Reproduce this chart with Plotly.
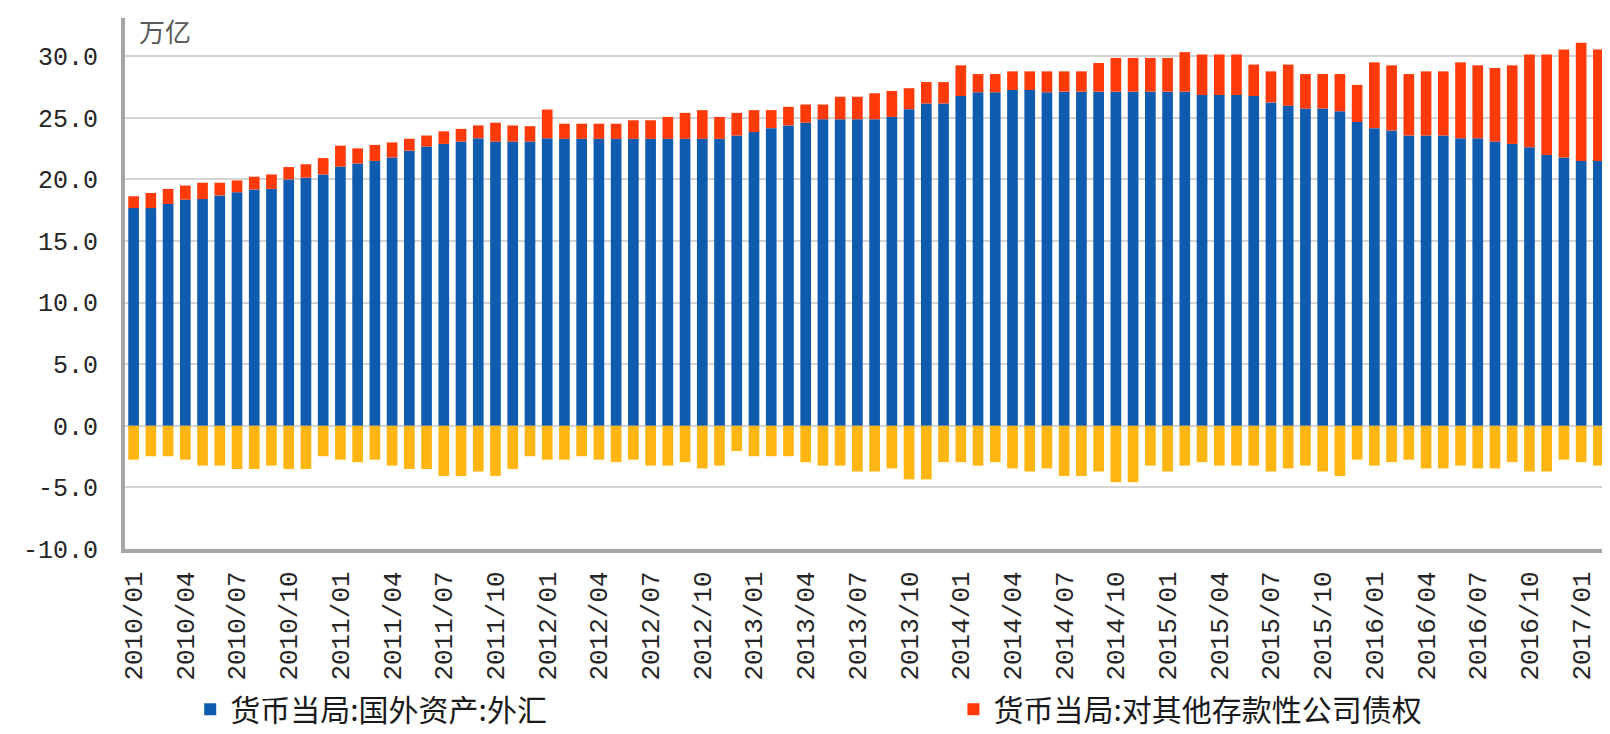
import plotly.graph_objects as go

# months 2010/01 .. 2017/02
months = [f"{y}/{m:02d}" for y in range(2010, 2018) for m in range(1, 13)][:86]
tick_labels = months[::3]

# 货币当局:国外资产:外汇 (万亿)
fx = [17.67, 17.67, 18.00, 18.36, 18.40, 18.70, 18.96, 19.18, 19.23, 20.00,
      20.14, 20.40, 21.04, 21.29, 21.50, 21.78, 22.33, 22.66, 22.88, 23.07,
      23.34, 23.07, 23.07, 23.07, 23.34, 23.29, 23.29, 23.29, 23.29, 23.29,
      23.29, 23.29, 23.29, 23.29, 23.29, 23.56, 23.84, 24.16, 24.38, 24.60,
      24.88, 24.88, 24.88, 24.88, 25.07, 25.70, 26.16, 26.16, 26.77, 27.07,
      27.07, 27.26, 27.26, 27.07, 27.12, 27.12, 27.12, 27.12, 27.12, 27.12,
      27.12, 27.12, 26.85, 26.85, 26.85, 26.77, 26.25, 25.97, 25.75, 25.75,
      25.53, 24.66, 24.16, 23.97, 23.56, 23.56, 23.56, 23.34, 23.34, 23.07,
      22.88, 22.60, 21.97, 21.78, 21.50, 21.50]

# 货币当局:对其他存款性公司债权 (stacked on top)
claims = [0.96, 1.23, 1.23, 1.14, 1.33, 1.03, 0.96, 1.04, 1.17, 1.00,
          1.09, 1.33, 1.70, 1.23, 1.30, 1.22, 0.97, 0.90, 1.02, 1.03,
          1.04, 1.53, 1.31, 1.25, 2.33, 1.23, 1.23, 1.23, 1.23, 1.51,
          1.51, 1.78, 2.11, 2.33, 1.78, 1.84, 1.78, 1.46, 1.51, 1.48,
          1.20, 1.83, 1.83, 2.11, 2.11, 1.70, 1.74, 1.74, 2.49, 1.48,
          1.48, 1.51, 1.51, 1.70, 1.65, 1.65, 2.33, 2.74, 2.74, 2.74,
          2.74, 3.21, 3.29, 3.29, 3.29, 2.55, 2.52, 3.35, 2.80, 2.80,
          3.02, 3.01, 5.34, 5.29, 4.99, 5.21, 5.21, 6.16, 5.92, 5.97,
          6.38, 7.54, 8.17, 8.77, 9.60, 9.05]

# negative series (no legend entry in the original)
neg = [-2.75, -2.47, -2.47, -2.75, -3.23, -3.23, -3.51, -3.51, -3.23, -3.51,
       -3.51, -2.47, -2.75, -2.95, -2.75, -3.23, -3.51, -3.51, -4.07, -4.07,
       -3.71, -4.07, -3.51, -2.47, -2.75, -2.75, -2.47, -2.75, -2.95, -2.75,
       -3.23, -3.23, -2.95, -3.46, -3.23, -2.05, -2.47, -2.47, -2.47, -2.95,
       -3.23, -3.23, -3.71, -3.71, -3.46, -4.35, -4.35, -2.95, -2.95, -3.23,
       -2.95, -3.46, -3.71, -3.46, -4.07, -4.07, -3.71, -4.58, -4.58, -3.23,
       -3.71, -3.23, -2.95, -3.23, -3.23, -3.23, -3.71, -3.46, -3.23, -3.71,
       -4.07, -2.75, -3.23, -2.95, -2.75, -3.46, -3.46, -3.23, -3.46, -3.46,
       -2.95, -3.71, -3.71, -2.75, -2.95, -3.23]

BLUE, RED, YELLOW = "#0E5BB0", "#FF3A0A", "#FFB612"
MONO = "Liberation Mono, DejaVu Sans Mono, monospace"
CJK = "Noto Sans CJK SC, sans-serif"

fig = go.Figure()
fig.add_trace(go.Bar(x=months, y=fx, name="货币当局:国外资产:外汇",
                     marker=dict(color=BLUE, line_width=0), legend="legend"))
fig.add_trace(go.Bar(x=months, y=claims, name="货币当局:对其他存款性公司债权",
                     marker=dict(color=RED, line_width=0), legend="legend2"))
fig.add_trace(go.Bar(x=months, y=neg, name="neg", showlegend=False,
                     marker=dict(color=YELLOW, line_width=0)))

# page body keeps its default 8px margin, so the figure is 8px smaller than the window
leg_font = dict(family=CJK, size=30, color="#1a1a1a")
fig.update_layout(
    width=1602, height=726, barmode="relative", bargap=0.38,
    plot_bgcolor="white", paper_bgcolor="white",
    margin=dict(l=117, r=3, t=10, b=185, autoexpand=False),
    legend=dict(x=0.044, xanchor="left", y=-0.302, yanchor="middle",
                font=leg_font, itemwidth=30, bgcolor="rgba(0,0,0,0)", borderwidth=0),
    legend2=dict(x=0.559, xanchor="left", y=-0.302, yanchor="middle",
                 font=leg_font, itemwidth=30, bgcolor="rgba(0,0,0,0)", borderwidth=0),
    annotations=[dict(text="万亿", xref="paper", yref="paper", x=0.008, y=0.977,
                      xanchor="left", yanchor="middle", showarrow=False,
                      font=dict(family=CJK, size=26, color="#595959"))],
)
fig.update_xaxes(type="category", tickmode="array", tickvals=tick_labels, ticktext=tick_labels,
                 tickangle=-90, tickfont=dict(family=MONO, size=26, color="#262626"),
                 showline=True, linecolor="#A6A6A6", linewidth=4, showgrid=False,
                 ticks="outside", ticklen=8, tickcolor="rgba(0,0,0,0)", range=[-0.5, 85.5])
fig.update_yaxes(range=[-10, 33.1], tickvals=[-10, -5, 0, 5, 10, 15, 20, 25, 30],
                 ticktext=["-10.0", "-5.0", "0.0", "5.0", "10.0", "15.0", "20.0", "25.0", "30.0"],
                 tickfont=dict(family=MONO, size=25, color="#262626"),
                 showline=True, linecolor="#A6A6A6", linewidth=4,
                 showgrid=True, gridcolor="#D4D4D4", gridwidth=2,
                 zeroline=True, zerolinecolor="#D4D4D4", zerolinewidth=2,
                 ticklabelstandoff=18)

fig.write_html("out.html")
